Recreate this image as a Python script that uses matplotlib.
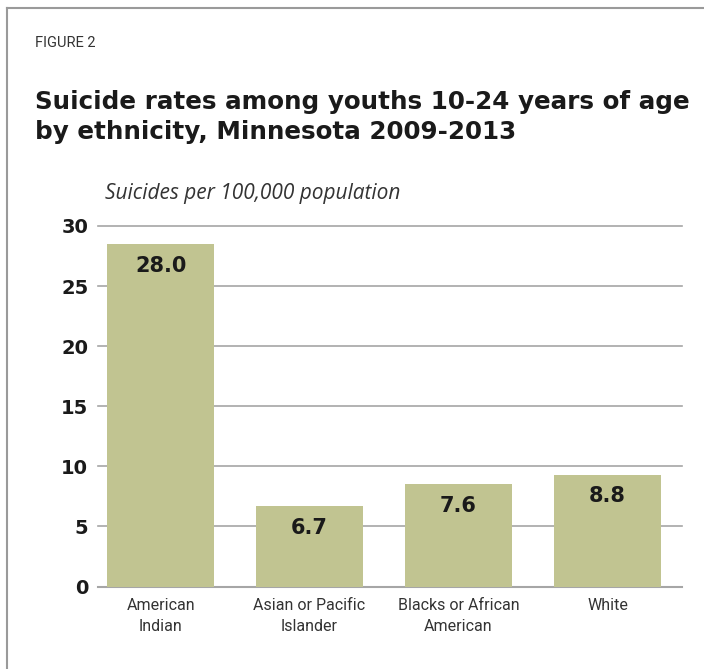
import matplotlib
matplotlib.use("Agg")
import matplotlib.pyplot as plt
from matplotlib.lines import Line2D

# data
categories = ["American\nIndian", "Asian or Pacific\nIslander",
              "Blacks or African\nAmerican", "White"]
bar_heights = [28.5, 6.7, 8.5, 9.3]      # drawn bar heights
value_labels = ["28.0", "6.7", "7.6", "8.8"]  # printed values
y_ticks = [0, 5, 10, 15, 20, 25, 30]

W, H = 704, 669
fig = plt.figure(figsize=(W / 100, H / 100), dpi=100)

def fx(px):
    return px / W

def fy(py):
    return 1 - py / H

# frame (top and left only)
fig.add_artist(Line2D([fx(7), 1], [fy(8), fy(8)], color="#9a9a9a", lw=1.5))
fig.add_artist(Line2D([fx(7), fx(7)], [fy(8), 0], color="#9a9a9a", lw=1.5))

narrow = ["Roboto", "DejaVu Sans"]
heavy = ["DejaVu Sans"]
light = ["Open Sans", "DejaVu Sans"]

fig.text(fx(35), fy(43), "FIGURE 2", fontsize=10.5, family=narrow,
         color="#333333", va="center", ha="left")
fig.text(fx(35), fy(139),
         "Suicide rates among youths 10-24 years of age\nby ethnicity, Minnesota 2009-2013",
         fontsize=17.7, family=heavy, fontweight="bold", color="#1a1a1a",
         va="baseline", ha="left", linespacing=1.31)
fig.text(fx(105), fy(193), "Suicides per 100,000 population", fontsize=15,
         family=light, style="italic", color="#333333", va="center", ha="left")

ax = fig.add_axes([fx(98), fy(586.5), fx(682) - fx(98), (586.5 - 226) / H])
x = list(range(len(categories)))
ax.bar(x, bar_heights, width=0.72, color="#c1c491", zorder=3)
for xi, h, lab in zip(x, bar_heights, value_labels):
    ax.text(xi, h - 1.8, lab, ha="center", va="center", fontsize=15,
            family=heavy, fontweight="bold", color="#1a1a1a", zorder=4)

ax.set_ylim(0, 30)
ax.set_xlim(-0.42, 3.5)
ax.set_yticks(y_ticks)
ax.set_yticklabels([str(t) for t in y_ticks], fontsize=14, fontweight="bold",
                   family=heavy, color="#1a1a1a")
ax.set_xticks(x)
ax.set_xticklabels(categories, fontsize=11.5, family=narrow, color="#333333",
                   linespacing=1.5)
ax.tick_params(axis="both", length=0)
ax.tick_params(axis="y", pad=7)
ax.tick_params(axis="x", pad=8)
ax.grid(axis="y", color="#a6a6a6", lw=1.2, zorder=0)
for gl in ax.get_ygridlines():
    gl.set_clip_on(False)
for s in ["top", "right", "left"]:
    ax.spines[s].set_visible(False)
ax.spines["bottom"].set_color("#a6a6a6")
ax.spines["bottom"].set_linewidth(1.5)

fig.savefig("out.png", dpi=100)
